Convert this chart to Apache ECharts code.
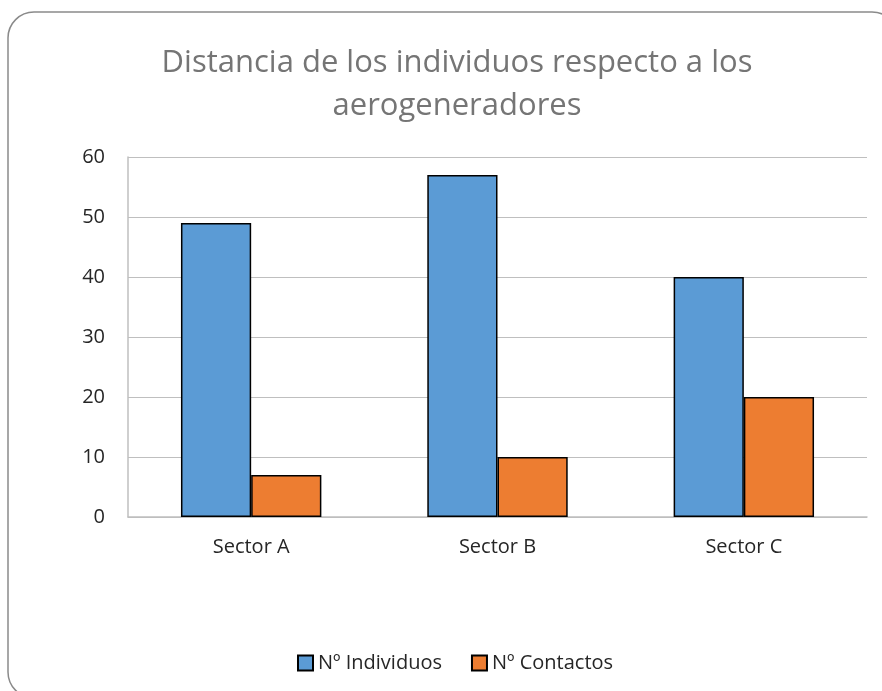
<!DOCTYPE html>
<html>
<head>
<meta charset="utf-8">
<script src="https://cdn.jsdelivr.net/npm/echarts@6/dist/echarts.min.js"></script>
<style>
  html, body { margin: 0; padding: 0; background: #fff; }
  #chart { width: 882px; height: 691px; }
</style>
</head>
<body>
<div id="chart"></div>
<script>
// datos
const sectores = ['Sector A', 'Sector B', 'Sector C']
const individuos = [49, 57, 40]
const contactos = [7, 10, 20]
const nombres = ['Nº Individuos', 'Nº Contactos']
const colores = ['#5B9BD5', '#ED7D31']

const fuente = '"Open Sans", sans-serif'

const chart = echarts.init(document.getElementById('chart'))

const option = {
  animation: false,
  // marco redondeado del gráfico (sale del recorte a la derecha y abajo)
  graphic: [
    {
      type: 'rect',
      shape: { x: 8, y: 12, width: 890, height: 686, r: 26 },
      style: { fill: 'none', stroke: '#8a8a8a', lineWidth: 1.5 },
      z: -1
    }
  ],
  title: {
    text: 'Distancia de los individuos respecto a los\naerogeneradores',
    left: 452,
    top: 37,
    textAlign: 'center',
    textStyle: {
      color: '#757575',
      fontFamily: fuente,
      fontWeight: 'normal',
      fontSize: 31,
      lineHeight: 43
    }
  },
  legend: {
    data: nombres,
    left: 292,
    top: 648,
    itemWidth: 15,
    itemHeight: 15,
    itemGap: 29,
    icon: 'rect',
    textStyle: { color: '#262626', fontFamily: fuente, fontSize: 20 }
  },
  grid: { left: 128, right: 15, top: 157, bottom: 174 },
  xAxis: {
    type: 'category',
    data: sectores,
    axisLine: { lineStyle: { color: '#BFBFBF', width: 1.5 } },
    axisTick: { show: false },
    axisLabel: { color: '#262626', fontFamily: fuente, fontSize: 20, margin: 20 }
  },
  yAxis: {
    type: 'value',
    min: 0,
    max: 60,
    interval: 10,
    axisLine: { show: true, lineStyle: { color: '#BFBFBF', width: 1.5 } },
    axisTick: { show: false },
    splitLine: { lineStyle: { color: '#BFBFBF', width: 1.2 } },
    axisLabel: { color: '#262626', fontFamily: fuente, fontSize: 20, margin: 23 }
  },
  series: [
    {
      name: nombres[0],
      type: 'bar',
      data: individuos,
      barGap: '0%',
      barCategoryGap: '43%',
      itemStyle: { color: colores[0], borderColor: '#000', borderWidth: 1.5 }
    },
    {
      name: nombres[1],
      type: 'bar',
      data: contactos,
      itemStyle: { color: colores[1], borderColor: '#000', borderWidth: 1.5 }
    }
  ]
}

chart.setOption(option)
</script>
</body>
</html>
